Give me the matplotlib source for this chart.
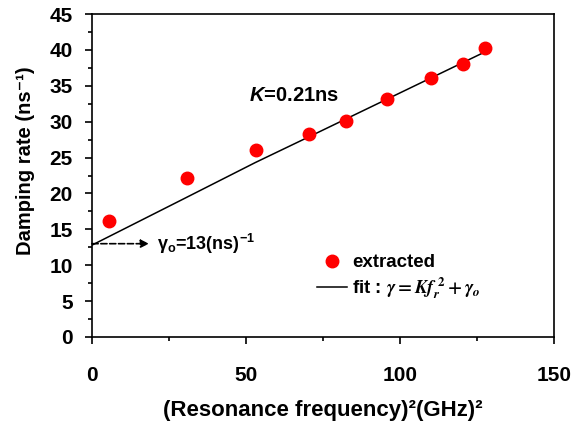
import matplotlib
matplotlib.use("Agg")
import matplotlib.pyplot as plt
from matplotlib.ticker import MultipleLocator

plt.rcParams['font.family'] = ['Liberation Sans', 'DejaVu Sans']
plt.rcParams['font.weight'] = 'bold'
plt.rcParams['mathtext.fontset'] = 'custom'
plt.rcParams['mathtext.rm'] = 'Liberation Sans:bold'
plt.rcParams['mathtext.bf'] = 'Liberation Sans:bold'
plt.rcParams['mathtext.it'] = 'Liberation Sans:italic:bold'

# data
fr2 = [5.5, 30.8, 53.2, 70.5, 82.5, 95.7, 110.1, 120.5, 127.5]
gamma = [16.2, 22.1, 26.0, 28.3, 30.1, 33.1, 36.1, 38.1, 40.2]
fit_x = [0, 30, 53, 70, 127.5]
fit_y = [12.8, 19.3, 24.3, 27.8, 39.7]
xticks = [0, 50, 100, 150]
yticks = [0, 5, 10, 15, 20, 25, 30, 35, 40, 45]

fig = plt.figure(figsize=(5.73, 4.28), dpi=100)
ax = fig.add_axes([92/573, 1-337/428, (554-92)/573, (337-14)/428])

ax.plot(fr2, gamma, 'o', color='#ff0000', markersize=9, label='extracted', zorder=3)
ax.plot(fit_x, fit_y, '-', color='black', lw=1.1,
        label=r'fit : $\gamma = Kf_r^{\,\mathbf{2}} + \gamma_o$', zorder=2)

ax.annotate('', xy=(18.5, 13.0), xytext=(0, 13.0),
            arrowprops=dict(arrowstyle='-|>', linestyle='--', color='black', lw=1.2,
                            mutation_scale=12, shrinkA=0, shrinkB=0))
ax.text(21, 13.0, r'$\mathrm{\gamma_o}$=13(ns)$^{\mathrm{-1}}$', fontsize=13,
        fontweight='bold', va='center', ha='left')
ax.text(51, 33.6, r'$\mathit{K}$=0.21ns', fontsize=14.5, fontweight='bold',
        va='center', ha='left')

ax.set_xlim(0, 150)
ax.set_ylim(0, 45)
ax.set_xticks(xticks)
ax.set_yticks(yticks)
ax.xaxis.set_minor_locator(MultipleLocator(25))
ax.yaxis.set_minor_locator(MultipleLocator(2.5))
ax.tick_params(axis='both', which='major', direction='out', length=5, width=1.2,
               labelsize=15)
ax.tick_params(axis='both', which='minor', direction='out', length=3, width=1.2)
ax.tick_params(axis='x', which='major', pad=16)
ax.tick_params(axis='y', which='major', pad=9)
for lab in ax.get_xticklabels() + ax.get_yticklabels():
    lab.set_fontweight('bold')
for s in ax.spines.values():
    s.set_linewidth(1.2)

ax.set_xlabel('(Resonance frequency)²(GHz)²',
              fontsize=16, fontweight='bold', labelpad=11)
ax.set_ylabel('Damping rate (ns⁻¹)', fontsize=14.5, fontweight='bold')
ax.yaxis.set_label_coords(-0.123, 0.545)

leg = ax.legend(loc='upper left', bbox_to_anchor=(0.47, 0.28), frameon=False,
                fontsize=13.5, handlelength=1.6, handletextpad=0.3, labelspacing=0.2,
                borderaxespad=0)
for t in leg.get_texts():
    t.set_fontweight('bold')
leg.get_texts()[1].set_math_fontfamily('stix')

fig.savefig('out.png', dpi=100)
